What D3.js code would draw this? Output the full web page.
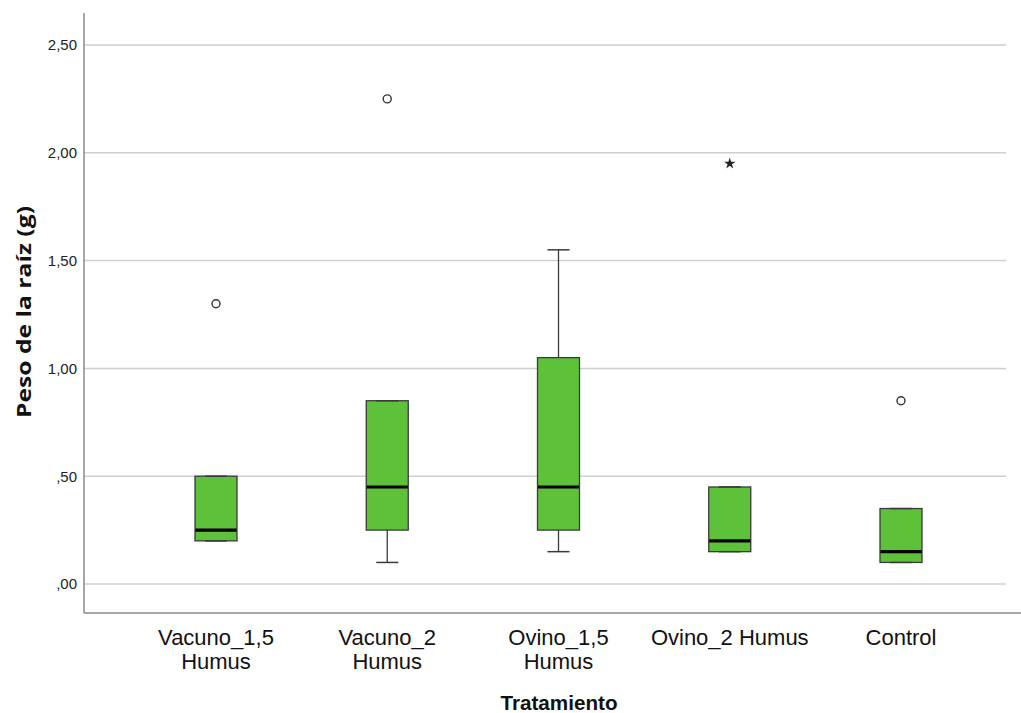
<!DOCTYPE html>
<html>
<head>
<meta charset="utf-8">
<script src="https://cdn.jsdelivr.net/npm/d3@7"></script>
<style>
  html, body { margin: 0; padding: 0; background: #fff; }
  svg { display: block; }
</style>
</head>
<body>
<svg id="chart" width="1021" height="713"></svg>
<script>
// Treatments (two-line labels where the category name wraps)
const categories = ["Vacuno_1,5 Humus", "Vacuno_2 Humus", "Ovino_1,5 Humus", "Ovino_2 Humus", "Control"];
const labelLines = [["Vacuno_1,5", "Humus"], ["Vacuno_2", "Humus"], ["Ovino_1,5", "Humus"], ["Ovino_2 Humus"], ["Control"]];

// Box plot summaries: whisker low, Q1, median, Q3, whisker high
const whiskerLow  = [0.20, 0.10, 0.15, 0.15, 0.10];
const q1          = [0.20, 0.25, 0.25, 0.15, 0.10];
const median      = [0.25, 0.45, 0.45, 0.20, 0.15];
const q3          = [0.50, 0.85, 1.05, 0.45, 0.35];
const whiskerHigh = [0.50, 0.85, 1.55, 0.45, 0.35];

// Points beyond the whiskers: "o" = outlier, "*" = extreme
const outliers = [
  { cat: "Vacuno_1,5 Humus", value: 1.30, kind: "o" },
  { cat: "Vacuno_2 Humus",   value: 2.25, kind: "o" },
  { cat: "Ovino_2 Humus",    value: 1.95, kind: "*" },
  { cat: "Control",          value: 0.85, kind: "o" }
];

const yTicks = [0, 0.5, 1.0, 1.5, 2.0, 2.5];
const yTickLabels = [",00", ",50", "1,00", "1,50", "2,00", "2,50"];

const svg = d3.select("#chart");
const axisLeft = 84, plotTop = 13, plotBottom = 613, plotRight = 1021, gridRight = 1006;

const y = d3.scaleLinear().domain([0, 2.5]).range([584, 45]);
const x = d3.scalePoint().domain(categories).range([216, 901]);
const boxW = 42, capW = 22;

// Horizontal gridlines
svg.append("g").selectAll("line").data(yTicks).join("line")
  .attr("x1", axisLeft).attr("x2", gridRight)
  .attr("y1", d => y(d)).attr("y2", d => y(d))
  .attr("stroke", "#cfcfcf").attr("stroke-width", 1.5);

// Y axis ticks and labels
const yAxis = d3.axisLeft(y).tickValues(yTicks)
  .tickFormat((d, i) => yTickLabels[i]).tickSize(0).tickPadding(7);
const gy = svg.append("g").attr("transform", `translate(${axisLeft},0)`).call(yAxis);
gy.select(".domain").remove();
gy.selectAll("text").attr("font-family", "'Liberation Sans', sans-serif")
  .attr("font-size", 15).attr("fill", "#222");

// Frame lines (left axis and bottom axis)
svg.append("line").attr("x1", axisLeft).attr("x2", axisLeft).attr("y1", plotTop).attr("y2", plotBottom)
  .attr("stroke", "#8a8a8a").attr("stroke-width", 1.5);
svg.append("line").attr("x1", axisLeft).attr("x2", plotRight).attr("y1", plotBottom).attr("y2", plotBottom)
  .attr("stroke", "#8a8a8a").attr("stroke-width", 1.5);

// Boxes
const boxes = categories.map((c, i) => ({
  cat: c, lo: whiskerLow[i], q1: q1[i], med: median[i], q3: q3[i], hi: whiskerHigh[i]
}));
const g = svg.append("g").selectAll("g").data(boxes).join("g")
  .attr("transform", d => `translate(${x(d.cat)},0)`);

const stroke = "#3a3a3a";
// whisker stems
g.append("line").attr("x1", 0).attr("x2", 0).attr("y1", d => y(d.hi)).attr("y2", d => y(d.q3))
  .attr("stroke", stroke).attr("stroke-width", 1.3);
g.append("line").attr("x1", 0).attr("x2", 0).attr("y1", d => y(d.q1)).attr("y2", d => y(d.lo))
  .attr("stroke", stroke).attr("stroke-width", 1.3);
// box
g.append("rect").attr("x", -boxW / 2).attr("width", boxW)
  .attr("y", d => y(d.q3)).attr("height", d => y(d.q1) - y(d.q3))
  .attr("fill", "#5ec13a").attr("stroke", stroke).attr("stroke-width", 1.3);
// whisker caps
g.append("line").attr("x1", -capW / 2).attr("x2", capW / 2).attr("y1", d => y(d.hi)).attr("y2", d => y(d.hi))
  .attr("stroke", stroke).attr("stroke-width", 1.5);
g.append("line").attr("x1", -capW / 2).attr("x2", capW / 2).attr("y1", d => y(d.lo)).attr("y2", d => y(d.lo))
  .attr("stroke", stroke).attr("stroke-width", 1.5);
// median
g.append("line").attr("x1", -boxW / 2 + 0.5).attr("x2", boxW / 2 - 0.5)
  .attr("y1", d => y(d.med)).attr("y2", d => y(d.med))
  .attr("stroke", "#000").attr("stroke-width", 3.2);

// Outliers and extremes
const og = svg.append("g");
og.selectAll("circle").data(outliers.filter(d => d.kind === "o")).join("circle")
  .attr("cx", d => x(d.cat)).attr("cy", d => y(d.value)).attr("r", 4)
  .attr("fill", "none").attr("stroke", "#333").attr("stroke-width", 1.4);
og.selectAll("path").data(outliers.filter(d => d.kind === "*")).join("path")
  .attr("transform", d => `translate(${x(d.cat)},${y(d.value)})`)
  .attr("d", d3.symbol(d3.symbolStar, 40)).attr("fill", "#222");

// Category labels
const lab = svg.append("g").selectAll("text").data(categories).join("text")
  .attr("x", d => x(d)).attr("y", 645)
  .attr("text-anchor", "middle").attr("font-family", "'Liberation Sans', sans-serif")
  .attr("font-size", 22).attr("fill", "#111");
lab.selectAll("tspan").data((d, i) => labelLines[i]).join("tspan")
  .attr("x", function () { return d3.select(this.parentNode).attr("x"); })
  .attr("dy", (d, i) => i === 0 ? 0 : 24)
  .text(d => d);

// Axis titles
svg.append("text").attr("x", 559).attr("y", 710).attr("text-anchor", "middle")
  .attr("font-family", "'Liberation Sans', sans-serif").attr("font-weight", "bold")
  .attr("font-size", 21).attr("textLength", 117).attr("lengthAdjust", "spacingAndGlyphs")
  .attr("fill", "#111").text("Tratamiento");
svg.append("text").attr("transform", "translate(31,312) rotate(-90)").attr("text-anchor", "middle")
  .attr("font-family", "'Open Sans', sans-serif").attr("font-weight", "bold").attr("font-size", 19)
  .attr("textLength", 212).attr("lengthAdjust", "spacingAndGlyphs")
  .attr("fill", "#111").text("Peso de la raíz (g)");
</script>
</body>
</html>
